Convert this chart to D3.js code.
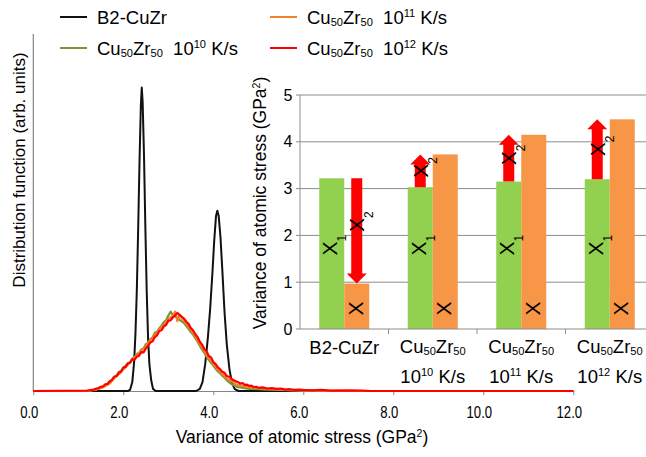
<!DOCTYPE html>
<html>
<head>
<meta charset="utf-8">
<script src="https://cdn.jsdelivr.net/npm/d3@7"></script>
<style>
    body { margin: 0; background: #fff; }
    text { font-family: "Liberation Sans", Arial, sans-serif; fill: #000; }
</style>
</head>
<body>
<div id="chart"></div>
<script>
// ---- main chart data (x: variance GPa^2, y: arbitrary units) ----
const xTicks = [0, 2, 4, 6, 8, 10, 12]

const b2Curve = [[0, 0], [2.10, 0], [2.15, 0.003], [2.20, 0.025], [2.24, 0.08], [2.27, 0.16], [2.30, 0.28],
    [2.33, 0.45], [2.36, 0.64], [2.39, 0.80], [2.41, 0.85], [2.43, 0.81], [2.46, 0.66], [2.49, 0.46],
    [2.52, 0.28], [2.55, 0.15], [2.58, 0.075], [2.62, 0.03], [2.66, 0.006], [2.72, 0], [3.62, 0],
    [3.70, 0.006], [3.76, 0.025], [3.82, 0.075], [3.88, 0.15], [3.93, 0.23], [3.98, 0.33], [4.02, 0.42],
    [4.06, 0.49], [4.09, 0.505], [4.12, 0.49], [4.16, 0.43], [4.20, 0.34], [4.25, 0.22], [4.30, 0.13],
    [4.36, 0.06], [4.42, 0.02], [4.48, 0.005], [4.56, 0], [12, 0]]

const rate10Curve = [[0, 0], [1.25, 0], [1.30, 0.002], [1.35, 0.003], [1.40, 0.005], [1.45, 0.007], [1.50, 0.010],
    [1.55, 0.011], [1.60, 0.015], [1.65, 0.020], [1.70, 0.027], [1.75, 0.031], [1.80, 0.040], [1.85, 0.043],
    [1.90, 0.053], [1.95, 0.056], [2.00, 0.064], [2.05, 0.071], [2.10, 0.078], [2.15, 0.080], [2.20, 0.091],
    [2.25, 0.094], [2.30, 0.104], [2.35, 0.107], [2.40, 0.116], [2.45, 0.119], [2.50, 0.131], [2.55, 0.135],
    [2.60, 0.145], [2.65, 0.150], [2.70, 0.163], [2.75, 0.166], [2.80, 0.176], [2.85, 0.183], [2.90, 0.193],
    [2.95, 0.198], [3.00, 0.211], [3.05, 0.222], [3.10, 0.213], [3.15, 0.209], [3.20, 0.207], [3.25, 0.199],
    [3.30, 0.195], [3.35, 0.190], [3.40, 0.182], [3.45, 0.174], [3.50, 0.165], [3.55, 0.158], [3.60, 0.148],
    [3.65, 0.138], [3.70, 0.127], [3.75, 0.116], [3.80, 0.107], [3.85, 0.096], [3.90, 0.087], [3.95, 0.079],
    [4.00, 0.072], [4.05, 0.063], [4.10, 0.055], [4.15, 0.050], [4.20, 0.043], [4.25, 0.037], [4.30, 0.030],
    [4.35, 0.025], [4.40, 0.020], [4.45, 0.016], [4.50, 0.013], [4.55, 0.011], [4.60, 0.010], [4.70, 0.008],
    [4.80, 0.006], [4.90, 0.006], [5.00, 0.005], [5.20, 0.004], [5.50, 0.003], [6.00, 0.001], [6.50, 0], [12, 0]]

const rate11Curve = [[0, 0], [1.2, 0], [1.3, 0.002], [1.4, 0.004], [1.5, 0.008], [1.6, 0.014], [1.7, 0.021],
    [1.8, 0.036], [1.9, 0.047], [2.0, 0.061], [2.1, 0.073], [2.2, 0.089], [2.3, 0.099], [2.4, 0.113],
    [2.5, 0.125], [2.6, 0.143], [2.7, 0.156], [2.8, 0.173], [2.9, 0.185], [3.0, 0.201], [3.1, 0.211],
    [3.15, 0.222], [3.2, 0.196], [3.25, 0.214], [3.3, 0.204], [3.4, 0.189], [3.5, 0.171], [3.6, 0.153],
    [3.7, 0.132], [3.8, 0.113], [3.9, 0.092], [4.0, 0.077], [4.1, 0.060], [4.2, 0.048], [4.3, 0.035],
    [4.4, 0.028], [4.5, 0.019], [4.6, 0.016], [4.7, 0.012], [4.8, 0.011], [5.0, 0.008], [5.2, 0.006],
    [5.5, 0.004], [6.0, 0.002], [6.5, 0.001], [7.0, 0], [12, 0]]

const rate12Curve = [[0, 0], [1.20, 0.001], [1.25, 0.002], [1.30, 0.003], [1.35, 0.004], [1.40, 0.007], [1.45, 0.008],
    [1.50, 0.012], [1.55, 0.013], [1.60, 0.019], [1.65, 0.020], [1.70, 0.027], [1.75, 0.031], [1.80, 0.040],
    [1.85, 0.042], [1.90, 0.051], [1.95, 0.054], [2.00, 0.066], [2.05, 0.067], [2.10, 0.077], [2.15, 0.079],
    [2.20, 0.089], [2.25, 0.087], [2.30, 0.096], [2.35, 0.099], [2.40, 0.109], [2.45, 0.108], [2.50, 0.119],
    [2.55, 0.126], [2.60, 0.136], [2.65, 0.139], [2.70, 0.151], [2.75, 0.156], [2.80, 0.168], [2.85, 0.170],
    [2.90, 0.181], [2.95, 0.185], [3.00, 0.197], [3.05, 0.198], [3.10, 0.206], [3.15, 0.211], [3.20, 0.219],
    [3.25, 0.213], [3.30, 0.208], [3.35, 0.203], [3.40, 0.194], [3.45, 0.188], [3.50, 0.176], [3.55, 0.170],
    [3.60, 0.159], [3.65, 0.151], [3.70, 0.138], [3.75, 0.130], [3.80, 0.118], [3.85, 0.111], [3.90, 0.098],
    [3.95, 0.094], [4.00, 0.081], [4.05, 0.076], [4.10, 0.066], [4.15, 0.061], [4.20, 0.054], [4.25, 0.051],
    [4.30, 0.042], [4.35, 0.040], [4.40, 0.035], [4.45, 0.030], [4.50, 0.027], [4.55, 0.025], [4.60, 0.021],
    [4.65, 0.022], [4.70, 0.017], [4.75, 0.018], [4.80, 0.014], [4.85, 0.015], [4.90, 0.011], [4.95, 0.012],
    [5.00, 0.009], [5.10, 0.010], [5.20, 0.007], [5.30, 0.008], [5.40, 0.006], [5.50, 0.007], [5.60, 0.004],
    [5.70, 0.005], [5.80, 0.003], [5.90, 0.004], [6.00, 0.003], [6.20, 0.002], [6.40, 0.003], [6.60, 0.001],
    [7.00, 0.002], [7.30, 0.001], [7.50, 0], [12, 0]]

const seriesCurves = [b2Curve, rate10Curve, rate11Curve, rate12Curve]
const seriesColors = ["#111111", "#77933C", "#F0802A", "#FF0000"]
// legend labels as [text, "sub"|"sup"|""] runs
const seriesLabels = [
    [["B2-CuZr", ""]],
    [["Cu", ""], ["50", "sub"], ["Zr", ""], ["50", "sub"], ["\u00a0\u00a010", ""], ["10", "sup"], [" K/s", ""]],
    [["Cu", ""], ["50", "sub"], ["Zr", ""], ["50", "sub"], ["\u00a0\u00a010", ""], ["11", "sup"], [" K/s", ""]],
    [["Cu", ""], ["50", "sub"], ["Zr", ""], ["50", "sub"], ["\u00a0\u00a010", ""], ["12", "sup"], [" K/s", ""]]
]

// ---- inset bar chart data ----
const insetCategories = ["B2-CuZr", "1e10", "1e11", "1e12"]
const insetLabels = [
    [[["B2-CuZr", ""]]],
    [[["Cu", ""], ["50", "sub"], ["Zr", ""], ["50", "sub"]], [["10", ""], ["10", "sup"], [" K/s", ""]]],
    [[["Cu", ""], ["50", "sub"], ["Zr", ""], ["50", "sub"]], [["10", ""], ["11", "sup"], [" K/s", ""]]],
    [[["Cu", ""], ["50", "sub"], ["Zr", ""], ["50", "sub"]], [["10", ""], ["12", "sup"], [" K/s", ""]]]
]
const insetX1 = [3.22, 3.03, 3.15, 3.20]
const insetX = [0.97, 3.73, 4.15, 4.48]
const insetTicks = [0, 1, 2, 3, 4, 5]

const width = 646, height = 457
const font = '"Liberation Sans", Arial, sans-serif'

const svg = d3.select("#chart").append("svg")
    .attr("width", width)
    .attr("height", height)

function richText(sel, parts, size) {
    parts.forEach(([s, mode]) => {
        const t = sel.append("tspan").text(s)
        if (mode === "sub") t.attr("font-size", size * 0.6).attr("baseline-shift", -size * 0.1)
        if (mode === "sup") t.attr("font-size", size * 0.6).attr("baseline-shift", size * 0.36)
    })
    return sel
}

// ---------- main chart ----------
const x = d3.scaleLinear().domain([0, 12]).range([33.3, 573.3])
const y = d3.scaleLinear().domain([0, 1]).range([391, 34])

svg.append("line")
    .attr("x1", x(0)).attr("x2", x(0))
    .attr("y1", y(1)).attr("y2", y(0))
    .attr("stroke", "#858585").attr("stroke-width", 1.2)

const xAxis = svg.append("g")
    .attr("transform", "translate(0," + y(0) + ")")
    .call(d3.axisBottom(x)
        .tickValues(xTicks)
        .tickSize(4)
        .tickSizeOuter(0)
        .tickPadding(12)
        .tickFormat(d3.format(".1f")))
xAxis.select(".domain").attr("stroke", "#858585").attr("stroke-width", 1.2)
xAxis.selectAll(".tick line").attr("stroke", "#858585")
// labels in the source are narrow and sit a little left of their ticks
xAxis.selectAll(".tick text")
    .attr("font-family", font)
    .attr("font-size", 16)
    .attr("dx", -5.5)
    .attr("transform", "scale(0.82,1)")
    .attr("fill", "#000")

const line = d3.line().x(d => x(d[0])).y(d => y(d[1]))
seriesCurves.forEach((c, i) => {
    svg.append("path")
        .datum(c)
        .attr("fill", "none")
        .attr("stroke", seriesColors[i])
        .attr("stroke-width", i === 0 ? 2 : 2.2)
        .attr("stroke-linejoin", "round")
        .attr("d", line)
})

// axis titles
richText(svg.append("text")
    .attr("x", 302).attr("y", 443)
    .attr("text-anchor", "middle")
    .attr("font-size", 17.5), [["Variance of atomic stress (GPa", ""], ["2", "sup"], [")", ""]], 17.5)

svg.append("text")
    .attr("transform", "translate(25,170) rotate(-90)")
    .attr("text-anchor", "middle")
    .attr("font-size", 17)
    .text("Distribution function (arb. units)")

// legend
const legendPos = [[60, 17], [60, 48], [270, 17], [270, 48]]
seriesLabels.forEach((lab, i) => {
    const [lx, ly] = legendPos[i]
    svg.append("line")
        .attr("x1", lx).attr("x2", lx + 27)
        .attr("y1", ly).attr("y2", ly)
        .attr("stroke", seriesColors[i]).attr("stroke-width", 2)
    richText(svg.append("text")
        .attr("x", lx + 37).attr("y", ly + 6.5)
        .attr("font-size", 18.5), lab, 18.5)
})

// ---------- inset bar chart ----------
const xi = d3.scaleBand().domain(insetCategories).range([300, 654]).padding(0)
const xiSub = d3.scaleBand().domain(["x1", "x"]).range([xi.bandwidth() / 2 - 25, xi.bandwidth() / 2 + 25])
const yi = d3.scaleLinear().domain([0, 5]).range([329, 95])
const inset = svg.append("g")

inset.selectAll(".grid").data(insetTicks.slice(1)).enter().append("line")
    .attr("x1", 300).attr("x2", 646)
    .attr("y1", d => yi(d)).attr("y2", d => yi(d))
    .attr("stroke", "#8c8c8c").attr("stroke-width", 1)

insetCategories.forEach((c, i) => {
    inset.append("rect")
        .attr("x", xi(c) + xiSub("x1")).attr("width", xiSub.bandwidth())
        .attr("y", yi(insetX1[i])).attr("height", yi(0) - yi(insetX1[i]))
        .attr("fill", "#92D050")
    inset.append("rect")
        .attr("x", xi(c) + xiSub("x")).attr("width", xiSub.bandwidth())
        .attr("y", yi(insetX[i])).attr("height", yi(0) - yi(insetX[i]))
        .attr("fill", "#F79646")
})

// arrows from X1 level to X level, drawn over the shorter bar
insetCategories.forEach((c, i) => {
    const onSub = insetX[i] < insetX1[i] ? "x" : "x1"
    const ax = xi(c) + xiSub(onSub) + xiSub.bandwidth() / 2
    const y1 = yi(insetX1[i]), y2 = yi(insetX[i])
    const dir = y2 > y1 ? 1 : -1
    const hb = y2 - dir * 10
    const p = d3.path()
    p.moveTo(ax - 5.5, y1)
    p.lineTo(ax + 5.5, y1)
    p.lineTo(ax + 5.5, hb)
    p.lineTo(ax + 10, hb)
    p.lineTo(ax, y2)
    p.lineTo(ax - 10, hb)
    p.lineTo(ax - 5.5, hb)
    p.closePath()
    inset.append("path").attr("d", p.toString()).attr("fill", "#FF0000")

    const gx = xi(c) + xiSub("x1") + xiSub.bandwidth() / 2
    const ox = xi(c) + xiSub("x") + xiSub.bandwidth() / 2
    const marks = [[gx - 2, yi(1.72), "1"], [ax, (y1 + y2) / 2 + (dir > 0 ? -6 : 0), "2"], [ox - 1.5, yi(0.44), ""]]
    marks.forEach(([mx, my, sub]) => {
        const t = inset.append("text")
            .attr("transform", "translate(" + mx + "," + my + ") rotate(-90)")
            .attr("x", -7).attr("y", 7.5)
            .attr("font-size", 21)
            .text("X")
        if (sub) t.append("tspan").attr("font-size", 12).attr("baseline-shift", -9).text(sub)
    })
})

// inset axes
inset.append("line")
    .attr("x1", 300).attr("x2", 300).attr("y1", yi(5)).attr("y2", yi(0))
    .attr("stroke", "#8c8c8c")
inset.append("line")
    .attr("x1", 300).attr("x2", 646).attr("y1", yi(0)).attr("y2", yi(0))
    .attr("stroke", "#8c8c8c")
insetTicks.forEach(t => {
    inset.append("line")
        .attr("x1", 296).attr("x2", 300).attr("y1", yi(t)).attr("y2", yi(t))
        .attr("stroke", "#8c8c8c")
    inset.append("text")
        .attr("x", 288).attr("y", yi(t) + 5.5)
        .attr("text-anchor", "middle")
        .attr("font-size", 16)
        .text(t)
})
insetCategories.forEach(c => {
    inset.append("line")
        .attr("x1", xi(c) + xi.bandwidth()).attr("x2", xi(c) + xi.bandwidth())
        .attr("y1", yi(0)).attr("y2", yi(0) + 5)
        .attr("stroke", "#8c8c8c")
})
insetLabels.forEach((lines, i) => {
    const cx = xi(insetCategories[i]) + xi.bandwidth() / 2
    lines.forEach((parts, k) => {
        richText(inset.append("text")
            .attr("x", cx).attr("y", lines.length === 1 ? 354 : 353 + k * 30)
            .attr("text-anchor", "middle")
            .attr("font-size", 18.5), parts, 18.5)
    })
})

richText(inset.append("text")
    .attr("transform", "translate(266,203) rotate(-90)")
    .attr("text-anchor", "middle")
    .attr("font-size", 17.5), [["Variance of atomic stress (GPa", ""], ["2", "sup"], [")", ""]], 17.5)
</script>
</body>
</html>
